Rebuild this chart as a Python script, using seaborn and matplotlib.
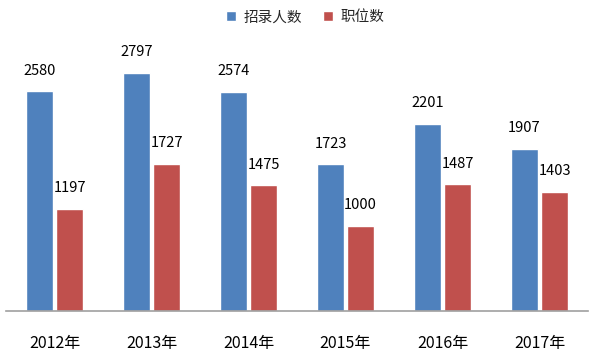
import matplotlib
matplotlib.use("Agg")
import matplotlib.pyplot as plt
import seaborn as sns
import pandas as pd

years = ["2012年", "2013年", "2014年", "2015年", "2016年", "2017年"]
recruits = [2580, 2797, 2574, 1723, 2201, 1907]
positions = [1197, 1727, 1475, 1000, 1487, 1403]
series_names = ["招录人数", "职位数"]
colors = ["#4F81BD", "#C0504D"]

sns.set_theme(style="white")
plt.rcParams['font.family'] = ['Noto Sans CJK SC', 'DejaVu Sans']

df = pd.DataFrame({
    "year": years * 2,
    "value": recruits + positions,
    "series": [series_names[0]] * len(years) + [series_names[1]] * len(years),
})

fig = plt.figure(figsize=(6.04, 3.61), dpi=100)
ax = fig.add_axes([6 / 604, (361 - 311) / 361, 582 / 604, 311 / 361])
sns.barplot(data=df, x="year", y="value", hue="series", palette=colors,
            width=0.62, gap=0.1, ax=ax, saturation=1, legend=True)

ax.set_ylim(0, 3655)
ax.set_xlim(-0.5, len(years) - 0.5)
ax.set_yticks([])
ax.set_xlabel("")
ax.set_ylabel("")
for s in ["top", "right", "left"]:
    ax.spines[s].set_visible(False)
ax.spines["bottom"].set_color("#A0A0A0")
ax.spines["bottom"].set_linewidth(1.2)
ax.tick_params(axis="x", length=0, pad=17, labelsize=11.5, labelcolor="#000000")

for cont in ax.containers:
    ax.bar_label(cont, padding=10, fontsize=10.5, color="#000000")

handles, labels = ax.get_legend_handles_labels()
ax.legend(handles, labels, loc="upper center", bbox_to_anchor=(0.514, 0.985),
          ncol=2, frameon=False, fontsize=10.5, handlelength=0.7, handleheight=0.7,
          handletextpad=0.5, columnspacing=1.4, borderaxespad=0)

fig.savefig("out.png", dpi=100)
